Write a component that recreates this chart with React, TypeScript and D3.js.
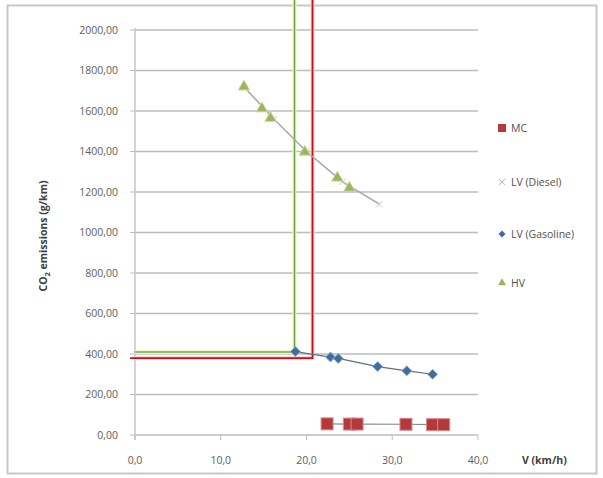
import React from "react";
import * as d3 from "d3";

// series values: [V (km/h), CO2 (g/km)]
const mcV = [22.4, 25.0, 25.9, 31.6, 34.7, 36.0];
const mcCO2 = [55, 54, 54, 53, 51, 51];
const dieselV = [12.8, 16.2, 20.0, 24.2, 28.5];
const dieselCO2 = [1715, 1560, 1400, 1250, 1140];
const gasolineV = [18.7, 22.8, 23.7, 28.3, 31.7, 34.7];
const gasolineCO2 = [412, 385, 378, 338, 317, 300];
const hvV = [12.7, 14.8, 15.8, 19.8, 23.6, 25.0];
const hvCO2 = [1720, 1612, 1565, 1398, 1270, 1220];

// reference lines
const greenV = 18.6;
const greenCO2 = 410;
const redV = 20.7;
const redCO2 = 380;

const yTicks = [0, 200, 400, 600, 800, 1000, 1200, 1400, 1600, 1800, 2000];
const xTicks = [0, 10, 20, 30, 40];
const legendItems = ["MC", "LV (Diesel)", "LV (Gasoline)", "HV"];

const zip = (a: number[], b: number[]) => a.map((v, i) => [v, b[i]] as [number, number]);

export default function App() {
  const W = 603, H = 478;
  const left = 135, right = 478, top = 30, bottom = 435;
  const x = d3.scaleLinear().domain([0, 40]).range([left, right]);
  const y = d3.scaleLinear().domain([0, 2000]).range([bottom, top]);
  const fmt = (v: number, d: number) => v.toFixed(d).replace(".", ",");
  const line = d3.line<[number, number]>().x(d => x(d[0])).y(d => y(d[1]));
  const font = "'Open Sans', 'Noto Sans', sans-serif";

  const mc = zip(mcV, mcCO2);
  const diesel = zip(dieselV, dieselCO2);
  const gas = zip(gasolineV, gasolineCO2);
  const hv = zip(hvV, hvCO2);

  const tri = d3.symbol(d3.symbolTriangle, 55)()!;
  const diamond = "M0,-5L5,0L0,5L-5,0Z";
  const legendY = [128, 182, 234, 283];

  return (
    <svg width={W} height={H} style={{ position: "absolute", left: 0, top: 0 }} fontFamily={font}>
      <rect x={7.5} y={5.5} width={589} height={468} fill="#fff" stroke="#c8c8c8" strokeWidth={2} />
      {/* gridlines */}
      {yTicks.map(t => (
        <g key={t}>
          <line x1={left} x2={right} y1={y(t)} y2={y(t)} stroke="#bdbdbd" strokeWidth={1.5} />
          <line x1={left - 5} x2={left} y1={y(t)} y2={y(t)} stroke="#bdbdbd" />
          <text x={118} y={y(t)} dy="0.35em" textAnchor="end" fontSize={10.5} fill="#5e5e5e">{fmt(t, 2)}</text>
        </g>
      ))}
      <line x1={left} x2={left} y1={top - 2} y2={bottom + 5} stroke="#c6c6c6" strokeWidth={1.5} />
      {xTicks.map(t => (
        <g key={t}>
          <line x1={x(t)} x2={x(t)} y1={bottom} y2={bottom + 5} stroke="#bdbdbd" />
          <text x={x(t)} y={464} textAnchor="middle" fontSize={10.5} fill="#5e5e5e">{fmt(t, 1)}</text>
        </g>
      ))}
      {/* axis titles */}
      <text transform={`translate(47,236) rotate(-90)`} textAnchor="middle" fontSize={10.5} fontWeight="bold" fill="#404040">
        CO<tspan fontSize={7.5} dy={3}>2</tspan><tspan dy={-3}> emissions (g/km)</tspan>
      </text>
      <text x={522} y={464} fontSize={10.5} fontWeight="bold" fill="#404040">V (km/h)</text>

      {/* reference lines */}
      <path d={`M${x(0)},${y(greenCO2)}H${x(greenV)}V0`} fill="none" stroke="#f7f9c8" strokeWidth={4} />
      <path d={`M${x(0)},${y(redCO2)}H${x(redV)}V0`} fill="none" stroke="#f8d6d6" strokeWidth={4} />
      <path d={`M${x(0)},${y(greenCO2)}H${x(greenV)}V0`} fill="none" stroke="#6aa84f" strokeWidth={1.6} />
      <path d={`M${x(0) - 5},${y(redCO2)}H${x(redV)}V0`} fill="none" stroke="#c0141c" strokeWidth={1.8} />

      {/* series lines */}
      <path d={line(diesel)!} fill="none" stroke="#a7a7a7" strokeWidth={1.5} />
      <path d={line(gas)!} fill="none" stroke="#5f6f80" strokeWidth={1.2} />
      <path d={line(mc)!} fill="none" stroke="#8a8a8a" strokeWidth={1.2} />

      {/* markers */}
      {diesel.map((d, i) => (
        <path key={i} d="M-3,-3L3,3M-3,3L3,-3" transform={`translate(${x(d[0])},${y(d[1])})`} stroke="#c4c4c4" strokeWidth={1} />
      ))}
      {hv.map((d, i) => (
        <path key={i} d={tri} transform={`translate(${x(d[0])},${y(d[1])})`} fill="#9bb55f" stroke="#c9d99a" strokeWidth={1} />
      ))}
      {gas.map((d, i) => (
        <path key={i} d={diamond} transform={`translate(${x(d[0])},${y(d[1])})`} fill="#3f6d9e" stroke="#8fb0d4" strokeWidth={1} />
      ))}
      {mc.map((d, i) => (
        <rect key={i} x={x(d[0]) - 6} y={y(d[1]) - 6} width={12} height={12} fill="#b4393d" stroke="#d98a8a" strokeWidth={1} />
      ))}

      {/* legend */}
      {legendItems.map((name, i) => (
        <g key={name} transform={`translate(502,${legendY[i]})`}>
          {i === 0 && <rect x={-4} y={-4} width={8} height={8} fill="#b4393d" />}
          {i === 1 && <path d="M-3,-3L3,3M-3,3L3,-3" stroke="#bbb" strokeWidth={1} />}
          {i === 2 && <path d="M0,-3.5L3.5,0L0,3.5L-3.5,0Z" fill="#3f6d9e" />}
          {i === 3 && <path d={d3.symbol(d3.symbolTriangle, 28)()!} fill="#9bb55f" />}
          <text x={9} dy="0.35em" fontSize={10.5} fill="#505050">{name}</text>
        </g>
      ))}
    </svg>
  );
}
